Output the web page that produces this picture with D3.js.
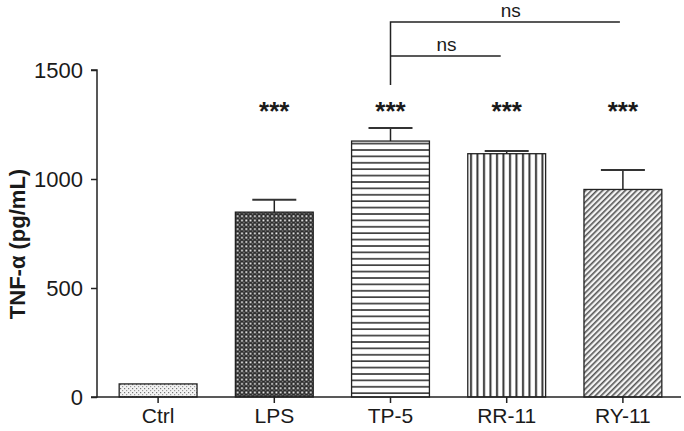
<!DOCTYPE html>
<html>
<head>
<meta charset="utf-8">
<script src="https://cdn.jsdelivr.net/npm/d3@7"></script>
<style>
  body { margin: 0; background: #fff; }
  text { font-family: "Liberation Sans", Arial, sans-serif; fill: #1a1a1a; }
</style>
</head>
<body>
<script>
const categories = ['Ctrl', 'LPS', 'TP-5', 'RR-11', 'RY-11']
const means = [60, 848, 1174, 1116, 952]
const errors = [0, 57, 60, 12, 89]
const stars = ['', '***', '***', '***', '***']
const yTicks = [0, 500, 1000, 1500]

const width = 684, height = 431

const svg = d3.select('body').append('svg')
    .attr('width', width)
    .attr('height', height)

// fill patterns, one per bar
const defs = svg.append('defs')

const dots = defs.append('pattern').attr('id', 'p0')
    .attr('patternUnits', 'userSpaceOnUse').attr('width', 4).attr('height', 4)
dots.append('rect').attr('width', 4).attr('height', 4).attr('fill', '#f2f2f2')
dots.append('rect').attr('x', 0).attr('y', 0).attr('width', 1.2).attr('height', 1.2).attr('fill', '#777')
dots.append('rect').attr('x', 2).attr('y', 2).attr('width', 1.2).attr('height', 1.2).attr('fill', '#999')

const checks = defs.append('pattern').attr('id', 'p1')
    .attr('patternUnits', 'userSpaceOnUse').attr('width', 4.3).attr('height', 4.3)
checks.append('rect').attr('width', 4.3).attr('height', 4.3).attr('fill', '#2a2a2a')
checks.append('rect').attr('x', 0.3).attr('y', 0.3).attr('width', 1.8).attr('height', 1.8).attr('fill', '#f5f5f5')
checks.append('rect').attr('x', 2.45).attr('y', 2.45).attr('width', 1.4).attr('height', 1.4).attr('fill', '#888')

const hLines = defs.append('pattern').attr('id', 'p2')
    .attr('patternUnits', 'userSpaceOnUse').attr('width', 8).attr('height', 6.4)
hLines.append('rect').attr('width', 8).attr('height', 6.4).attr('fill', '#fff')
hLines.append('rect').attr('y', 2).attr('width', 8).attr('height', 1.6).attr('fill', '#333')

const vLines = defs.append('pattern').attr('id', 'p3')
    .attr('patternUnits', 'userSpaceOnUse').attr('width', 6.5).attr('height', 8)
vLines.append('rect').attr('width', 6.5).attr('height', 8).attr('fill', '#fff')
vLines.append('rect').attr('x', 2).attr('width', 2).attr('height', 8).attr('fill', '#333')

const diag = defs.append('pattern').attr('id', 'p4')
    .attr('patternUnits', 'userSpaceOnUse').attr('width', 4).attr('height', 4)
    .attr('patternTransform', 'rotate(45)')
diag.append('rect').attr('width', 4).attr('height', 4).attr('fill', '#f4f4f4')
diag.append('rect').attr('x', 0).attr('width', 1.6).attr('height', 4).attr('fill', '#555')

// scales
const x = d3.scaleBand()
    .domain(categories)
    .range([100, 681])
    .paddingInner(0.33)
    .paddingOuter(0.165)

const y = d3.scaleLinear()
    .domain([0, 1500])
    .range([397, 70])

// bars
svg.selectAll('.bar').data(categories)
    .enter()
    .append('rect')
    .attr('x', d => x(d))
    .attr('y', (d, i) => y(means[i]))
    .attr('width', x.bandwidth())
    .attr('height', (d, i) => y(0) - y(means[i]))
    .attr('fill', (d, i) => 'url(#p' + i + ')')
    .attr('stroke', '#222')
    .attr('stroke-width', 1.3)

// error bars
const capW = 44
categories.forEach((c, i) => {
    if (!errors[i]) return
    const cx = x(c) + x.bandwidth() / 2
    svg.append('line')
        .attr('x1', cx).attr('x2', cx)
        .attr('y1', y(means[i])).attr('y2', y(means[i] + errors[i]))
        .attr('stroke', '#222').attr('stroke-width', 1.5)
    svg.append('line')
        .attr('x1', cx - capW / 2).attr('x2', cx + capW / 2)
        .attr('y1', y(means[i] + errors[i])).attr('y2', y(means[i] + errors[i]))
        .attr('stroke', '#333').attr('stroke-width', 2)
})

// significance stars
svg.selectAll('.star').data(categories)
    .enter()
    .append('text')
    .attr('x', d => x(d) + x.bandwidth() / 2)
    .attr('y', 120)
    .attr('text-anchor', 'middle')
    .style('font-size', '26px')
    .style('font-weight', 'bold')
    .text((d, i) => stars[i])

// y axis
const yAxis = svg.append('g')
    .attr('transform', 'translate(97,0)')
    .call(d3.axisLeft(y).tickValues(yTicks).tickFormat(d3.format('d')).tickSize(6).tickPadding(8))
yAxis.selectAll('path, line').attr('stroke', '#222').attr('stroke-width', 1.5)
yAxis.select('.domain').attr('d', 'M-6,' + y(1500) + 'H0V' + y(0) + 'H-6')
yAxis.selectAll('text').style('font-size', '22px').attr('fill', '#1a1a1a')

// x axis
const xAxis = svg.append('g')
    .attr('transform', 'translate(0,397)')
    .call(d3.axisBottom(x).tickSize(6).tickPadding(5))
xAxis.select('.domain').attr('d', 'M97,0H681')
xAxis.selectAll('path, line').attr('stroke', '#222').attr('stroke-width', 1.5)
xAxis.selectAll('text').style('font-size', '21px').attr('fill', '#1a1a1a')

// y label
svg.append('text')
    .attr('text-anchor', 'middle')
    .attr('transform', 'translate(25,244)rotate(-90)')
    .style('font-size', '22px')
    .style('font-weight', 'bold')
    .text('TNF-α (pg/mL)')

// ns brackets
const tpX = x('TP-5') + x.bandwidth() / 2
const rrX = x('RR-11') + x.bandwidth() / 2
const ryX = x('RY-11') + x.bandwidth() / 2
svg.append('path')
    .attr('d', 'M' + tpX + ',85V22H' + (ryX - 3))
    .attr('fill', 'none').attr('stroke', '#222').attr('stroke-width', 1.5)
svg.append('path')
    .attr('d', 'M' + tpX + ',56H' + (rrX - 6))
    .attr('fill', 'none').attr('stroke', '#222').attr('stroke-width', 1.5)
svg.append('text')
    .attr('x', (tpX + ryX) / 2 + 4).attr('y', 17)
    .attr('text-anchor', 'middle')
    .style('font-size', '19px')
    .text('ns')
svg.append('text')
    .attr('x', (tpX + rrX) / 2 - 2).attr('y', 51)
    .attr('text-anchor', 'middle')
    .style('font-size', '19px')
    .text('ns')
</script>
</body>
</html>
